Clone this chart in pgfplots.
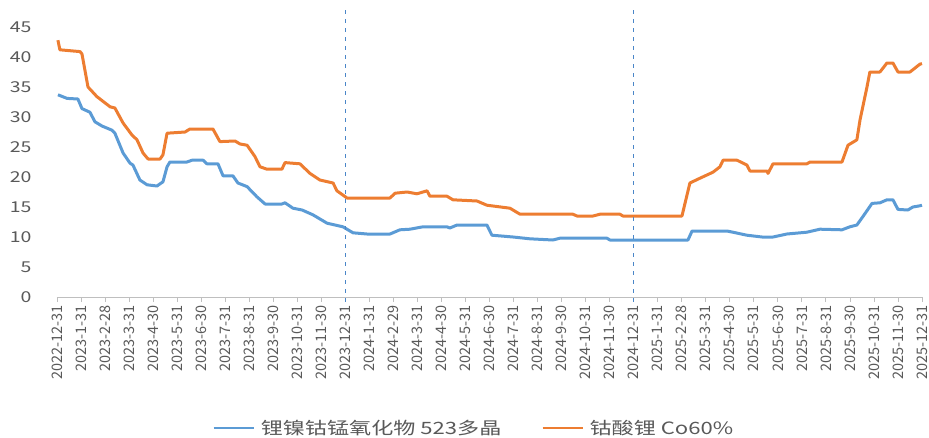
\documentclass[border=0pt]{standalone}
\usepackage{pgfplots}
\pgfplotsset{compat=1.18}
\usepackage{fontspec}
\setmainfont{Noto Sans CJK SC}
\newfontfamily\wide[FakeStretch=1.3]{Noto Sans CJK SC}

\definecolor{cblue}{HTML}{5B9BD5}
\definecolor{corange}{HTML}{ED7D31}
\definecolor{tgray}{HTML}{595959}
\definecolor{agray}{HTML}{BFBFBF}
\definecolor{dblue}{HTML}{4A86C8}

\begin{document}
\begin{tikzpicture}
\begin{axis}[
    scale only axis, width=865pt, height=270pt,
    xmin=0, xmax=36, ymin=0, ymax=45,
    axis x line=bottom, axis y line=left,
    y axis line style={draw=none},
    x axis line style={agray, line width=0.8pt, -},
    xtick={0,...,36},
    xticklabels={2022-12-31,2023-1-31,2023-2-28,2023-3-31,2023-4-30,2023-5-31,2023-6-30,2023-7-31,2023-8-31,2023-9-30,2023-10-31,2023-11-30,2023-12-31,2024-1-31,2024-2-29,2024-3-31,2024-4-30,2024-5-31,2024-6-30,2024-7-31,2024-8-31,2024-9-30,2024-10-31,2024-11-30,2024-12-31,2025-1-31,2025-2-28,2025-3-31,2025-4-30,2025-5-31,2025-6-30,2025-7-31,2025-8-31,2025-9-30,2025-10-31,2025-11-30,2025-12-31},
    ytick={0,5,...,45},
    tick align=outside,
    x tick style={agray, line width=0.8pt},
    y tick style={draw=none},
    major tick length=5pt,
    /pgf/number format/assume math mode=true,
    x tick label style={rotate=90, anchor=east, font=\fontsize{14.5}{14.5}\selectfont, text=tgray},
    y tick label style={anchor=east, xshift=-17pt, font=\wide\fontsize{15}{15}\selectfont, text=tgray},
    clip=false,
    legend style={at={(0.482,-0.485)}, anchor=center, draw=none, fill=none,
        font=\wide\fontsize{17}{17}\selectfont, text=tgray,
        /tikz/every odd column/.append style={column sep=4pt},
        /tikz/every even column/.append style={column sep=38pt}},
    legend columns=2,
    legend image code/.code={\draw[#1, line width=2.2pt] (0pt,0pt) -- (40pt,0pt);},
]
\addplot[cblue, line width=3pt, line join=round] coordinates {
(0.04,33.7)(0.42,33.1)(0.87,33.0)(1.04,31.4)(1.37,30.8)(1.58,29.2)(1.87,28.5)(2.29,27.8)(2.41,27.3)(2.75,24.0)(3.04,22.3)(3.16,22.0)(3.45,19.5)(3.75,18.7)(4.16,18.5)(4.41,19.2)(4.58,21.7)(4.70,22.5)(5.41,22.5)(5.62,22.8)(6.08,22.8)(6.24,22.2)(6.70,22.2)(6.91,20.2)(7.32,20.2)(7.53,19.0)(7.91,18.4)(8.32,16.7)(8.66,15.5)(9.36,15.5)(9.49,15.7)(9.82,14.8)(10.20,14.5)(10.65,13.7)(11.24,12.3)(11.90,11.7)(12.32,10.7)(12.90,10.5)(13.86,10.5)(14.27,11.2)(14.69,11.3)(15.23,11.7)(16.23,11.7)(16.35,11.5)(16.65,12.0)(17.89,12.0)(18.10,10.3)(18.98,10.0)(19.68,9.7)(20.64,9.5)(20.93,9.8)(22.89,9.8)(23.01,9.5)(26.26,9.5)(26.43,11.0)(27.88,11.0)(28.13,10.8)(28.71,10.3)(29.34,10.0)(29.80,10.0)(30.38,10.5)(31.21,10.8)(31.75,11.3)(32.67,11.2)(33.00,11.7)(33.29,12.0)(33.54,13.4)(33.92,15.6)(34.25,15.7)(34.54,16.2)(34.79,16.2)(35.00,14.6)(35.41,14.5)(35.62,15.0)(35.91,15.2)(36,15.3)
};
\addlegendentry{锂镍钴锰氧化物 523多晶}
\addplot[corange, line width=3pt, line join=round] coordinates {
(0.04,42.8)(0.12,41.2)(0.96,40.9)(1.04,40.5)(1.29,35.0)(1.66,33.4)(2.21,31.7)(2.41,31.5)(2.75,29.0)(3.12,27.0)(3.33,26.2)(3.58,24.0)(3.79,23.0)(4.29,23.0)(4.41,23.7)(4.58,27.3)(5.33,27.5)(5.53,28.0)(6.49,28.0)(6.78,25.9)(7.41,26.0)(7.62,25.5)(7.91,25.3)(8.24,23.4)(8.45,21.7)(8.74,21.3)(9.36,21.3)(9.49,22.4)(10.11,22.2)(10.53,20.6)(10.94,19.5)(11.49,19.0)(11.65,17.7)(12.07,16.5)(13.86,16.5)(14.07,17.3)(14.57,17.5)(14.98,17.2)(15.40,17.7)(15.52,16.8)(16.23,16.8)(16.48,16.2)(17.48,16.0)(17.89,15.3)(18.85,14.8)(19.27,13.8)(21.47,13.8)(21.64,13.5)(22.31,13.5)(22.60,13.8)(23.43,13.8)(23.55,13.5)(26.01,13.5)(26.34,19.0)(26.76,19.8)(27.30,20.8)(27.59,21.7)(27.72,22.8)(28.30,22.8)(28.71,22.0)(28.84,21.0)(29.55,21.0)(29.59,20.6)(29.80,22.2)(31.21,22.2)(31.34,22.5)(32.67,22.5)(32.92,25.3)(33.29,26.2)(33.42,29.5)(33.71,35.0)(33.83,37.5)(34.25,37.5)(34.54,39.0)(34.79,39.0)(35.00,37.5)(35.50,37.5)(35.91,38.8)(36,38.9)
};
\addlegendentry{钴酸锂 Co60\%}
\addplot[dblue, line width=0.9pt, dash pattern=on 4pt off 5pt, forget plot] coordinates {(12,-0.8)(12,48.2)};
\addplot[dblue, line width=0.9pt, dash pattern=on 4pt off 5pt, forget plot] coordinates {(24,-0.8)(24,48.2)};
\coordinate (o) at (rel axis cs:0,0);
\end{axis}
\pgfresetboundingbox
\path[use as bounding box] ([shift={(-57pt,-140pt)}]o) rectangle ([shift={(872pt,297pt)}]o);
\end{tikzpicture}
\end{document}
